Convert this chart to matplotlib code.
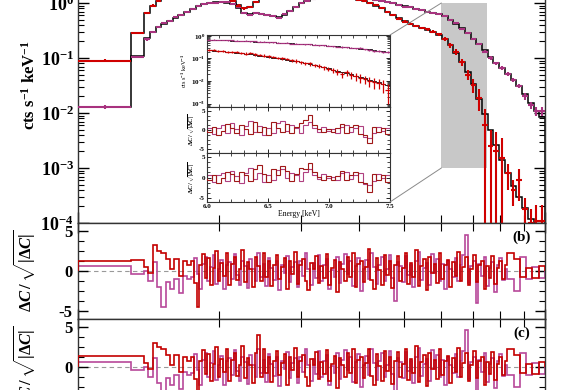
import numpy as np
import matplotlib
matplotlib.use("Agg")
import matplotlib.pyplot as plt
from matplotlib.patches import Rectangle, ConnectionPatch
from matplotlib.ticker import (LogLocator, MultipleLocator, FixedLocator,
                               NullFormatter, FuncFormatter, FixedFormatter)

# ---------------------------------------------------------------- data
# energy bin edges (keV)
spec_edges = np.concatenate(([1.0, 1.30], np.geomspace(1.385, 10.0, 71)))
res_edges = np.concatenate(([1.0, 1.30], np.geomspace(1.385, 1.75, 12),
                            np.geomspace(1.75, 8.3, 121)[1:], np.geomspace(8.3, 10.0, 7)[1:]))
zoom_edges = np.linspace(6.0, 7.5, 41)

red_data = [0.09, 0.285,
            0.65, 0.9, 1.1, 1.25, 1.35, 1.45, 1.5, 1.55, 1.6, 1.55,
            1.5, 1.45, 1.4, 1.3, 1.2, 1.1, 0.9, 0.8, 0.85, 1.05,
            1.2, 1.35, 1.4, 1.45, 1.4, 1.35, 1.3, 1.3, 1.25, 1.2,
            1.25, 1.3, 1.35, 1.3, 1.25, 1.25, 1.2, 1.15, 1.1, 1.0,
            0.92, 0.8, 0.68, 0.6, 0.52, 0.46, 0.42, 0.38, 0.35, 0.33,
            0.3, 0.27, 0.22, 0.17, 0.13, 0.085, 0.05, 0.032, 0.019, 0.006,
            0.0025, 0.002, 0.0015, 0.0008, 0.0004, 0.0006, 0.00018, 0.0001, 0.00011, 0.00011]
red_err = [0.004, 0.01,
           0.03, 0.04, 0.04, 0.04, 0.04, 0.04, 0.04, 0.04, 0.04, 0.04,
           0.04, 0.04, 0.04, 0.04, 0.04, 0.04, 0.04, 0.04, 0.04, 0.04,
           0.04, 0.04, 0.04, 0.04, 0.04, 0.04, 0.04, 0.04, 0.04, 0.04,
           0.04, 0.04, 0.04, 0.04, 0.04, 0.04, 0.04, 0.04, 0.04, 0.04,
           0.04, 0.035, 0.03, 0.03, 0.025, 0.025, 0.025, 0.02, 0.02, 0.02,
           0.02, 0.02, 0.018, 0.015, 0.015, 0.012, 0.01, 0.009, 0.008, 0.006,
           0.0025, 0.0025, 0.002, 0.0004, 0.0002, 0.00035, 0.0001, 0.00008, 0.0001, 0.0001]
red_model = [0.09, 0.29,
             0.66, 0.9, 1.1, 1.25, 1.35, 1.45, 1.5, 1.55, 1.58, 1.55,
             1.5, 1.45, 1.4, 1.3, 1.2, 1.1, 0.92, 0.82, 0.86, 1.05,
             1.2, 1.35, 1.4, 1.42, 1.4, 1.35, 1.32, 1.3, 1.27, 1.25,
             1.27, 1.3, 1.32, 1.3, 1.27, 1.24, 1.2, 1.15, 1.08, 1.0,
             0.9, 0.8, 0.69, 0.6, 0.53, 0.47, 0.42, 0.38, 0.35, 0.32,
             0.3, 0.265, 0.22, 0.17, 0.125, 0.085, 0.055, 0.033, 0.018, 0.0095,
             0.005, 0.0026, 0.0014, 0.0008, 0.00048, 0.0003, 0.00019, 0.00012, 0.000075, 0.00005]

pur_data = [0.013, 0.105,
            0.22, 0.3, 0.37, 0.44, 0.47, 0.56, 0.6, 0.69, 0.77, 0.88,
            0.95, 1.01, 1.02, 1.05, 1.03, 0.95, 0.84, 0.65, 0.61, 0.67,
            0.63, 0.6, 0.57, 0.54, 0.62, 0.73, 0.85, 1.0, 1.1, 1.18,
            1.22, 1.25, 1.28, 1.3, 1.28, 1.26, 1.25, 1.22, 1.2, 1.18,
            1.15, 1.1, 1.05, 0.98, 0.93, 0.86, 0.83, 0.79, 0.74, 0.7,
            0.67, 0.64, 0.58, 0.5, 0.43, 0.34, 0.28, 0.22, 0.18, 0.13,
            0.1, 0.08, 0.066, 0.051, 0.04, 0.031, 0.02, 0.014, 0.011, 0.011]
pur_err = [0.001, 0.006,
           0.012, 0.015, 0.018, 0.02, 0.02, 0.022, 0.022, 0.025, 0.025, 0.025,
           0.025, 0.025, 0.025, 0.025, 0.025, 0.025, 0.025, 0.022, 0.022, 0.022,
           0.022, 0.022, 0.022, 0.022, 0.022, 0.025, 0.025, 0.025, 0.025, 0.025,
           0.025, 0.025, 0.025, 0.025, 0.025, 0.025, 0.025, 0.025, 0.025, 0.025,
           0.025, 0.025, 0.025, 0.025, 0.025, 0.022, 0.022, 0.022, 0.02, 0.02,
           0.02, 0.02, 0.018, 0.018, 0.016, 0.014, 0.012, 0.01, 0.009, 0.008,
           0.007, 0.006, 0.005, 0.004, 0.004, 0.003, 0.003, 0.002, 0.002, 0.002]
pur_model = [0.013, 0.11,
             0.23, 0.3, 0.36, 0.42, 0.48, 0.54, 0.61, 0.69, 0.78, 0.87,
             0.94, 1.0, 1.03, 1.04, 1.02, 0.95, 0.82, 0.67, 0.63, 0.65,
             0.63, 0.6, 0.57, 0.56, 0.61, 0.71, 0.85, 0.99, 1.1, 1.17,
             1.22, 1.25, 1.27, 1.28, 1.27, 1.26, 1.24, 1.22, 1.2, 1.17,
             1.14, 1.1, 1.05, 0.99, 0.93, 0.88, 0.83, 0.78, 0.74, 0.7,
             0.67, 0.63, 0.58, 0.5, 0.42, 0.35, 0.28, 0.225, 0.18, 0.14,
             0.105, 0.082, 0.065, 0.051, 0.04, 0.031, 0.022, 0.015, 0.011, 0.0085]

# residuals, panel (b)
resid_b_red = [1.2, 1.4,
               0.5, -0.3, 3.2, 2.5, 2.3, 1.5, 0.2, 1.5, -0.6, 1.3, 0.8,
               1.2, -1.5, -4.5, 0.8, 2.1, -0.9, 1.6, -1.8, 0.4, 2.5, -1.2, 1.0, -0.6, 2.2, -1.7, 0.9, 1.8, -1.1, 0.3, 2.6,
               -1.4, 1.1, 0.2, -2.0, 1.7, 0.6, -1.3, 2.3, -0.8, 1.2, -1.9, 0.7, 2.0, -1.0, 0.5, 1.6, -2.2, 1.3, -0.4, 2.4,
               -1.6, 0.8, 1.5, -1.2, -2.4, 1.0, 0.3, 1.9, -1.5, 0.6, -0.9, 2.1, -1.8, 0.4, 1.4, -2.6, 1.1, 0.2, -1.3, 1.7,
               -0.7, 2.2, -2.0, 0.9, 1.3, -1.4, 0.5, 2.7, -1.1, -2.3, 1.6, 0.1, -1.7, 2.0, -0.5, 1.2, -2.1, 0.8, 1.9, -1.2,
               0.4, 2.3, -1.6, 1.0, -0.8, 2.6, -1.9, 0.6, 1.5, -2.4, 1.8, -0.3, 0.9, -1.5, 2.2, -1.0, 0.7, 1.4, -2.0, 1.1,
               -0.6, 2.4, -1.3, 0.5, 1.7, -1.8, 0.2, 2.0, -1.4, 0.8, 1.3, -2.2, 0.6, -0.9, 1.9, -1.6, 0.4, 1.2, -1.0, 0.7,
               2.3, 1.5, -0.7, 0.4, -0.9, 0.6]
resid_b_pur = [0.6, -0.4,
               0.0, -1.3, 1.1, -2.0, -4.5, -1.4, -2.2, -1.0, -2.7, -0.6, -1.0,
               -0.8, 1.6, -0.4, -2.2, 0.9, 1.8, -1.3, 0.5, 2.0, -1.6, 0.3, 1.4, -2.3, 0.7, 1.1, -1.0, 2.1, -0.5, -1.8, 1.2,
               0.6, -2.1, 1.5, 0.2, -1.2, 2.3, -0.7, 0.9, -1.9, 1.6, 0.4, -1.1, 1.2, -2.4, 0.8, -0.3, 1.9, -1.4, 0.5, 1.1,
               -2.0, 1.3, -0.6, 2.2, 0.3, -1.7, 1.0, -0.9, 2.0, -1.3, 0.7, 1.5, -2.2, 0.1, -0.8, 1.8, -1.5, 0.9, 2.1, -0.4,
               1.2, -1.9, 0.6, 1.6, -2.5, 0.3, 1.4, -1.0, 2.2, 0.5, -1.6, 0.8, 1.7, -1.2, 0.2, 2.0, -0.9, -3.8, 1.1, 0.6,
               -1.4, 1.9, -0.5, 0.7, -2.0, 1.3, 2.4, -1.1, 0.4, 1.0, -1.8, 2.1, -0.2, 1.5, -1.3, 0.9, -2.3, 1.2, 0.3, -0.7,
               1.6, -1.2, 0.8, 2.0, 4.5, -1.5, 0.6, 1.3, -4.0, 0.9, -0.6, 1.8, -1.9, 0.4, 1.1, -2.6, 0.7, 1.6, -1.1, 0.3,
               -1.0, -2.5, 1.8, -1.0, 0.5, -0.9]
# residuals, panel (c)
resid_c_red = [1.4, 1.4,
               0.5, -0.3, 3.0, 2.5, 2.3, 1.5, 0.2, 1.5, -0.6, 1.3, 0.8,
               1.2, -1.5, -3.0, 0.8, 2.1, -0.9, 1.6, -1.8, 0.4, 2.5, -1.2, 1.0, -0.6, 2.2, -1.7, 0.9, 1.8, -1.1, 0.3, 2.6,
               -1.4, 1.1, 0.2, -2.0, 1.7, 4.0, -1.3, 2.3, -0.8, 1.2, -1.9, 0.7, 2.0, -1.0, 0.5, 1.6, -2.2, 1.3, -0.4, 2.4,
               -1.2, 0.8, 1.5, -1.2, -2.4, 1.0, 0.3, 1.9, -1.5, 0.6, -0.9, 2.1, -1.8, 0.4, 1.4, -2.6, 1.1, 0.2, -1.3, 1.7,
               -0.7, 2.2, -2.0, 0.9, 1.3, -1.4, 0.5, 2.2, -1.1, -2.3, 1.6, 0.1, -1.7, 2.0, -0.5, 1.2, -2.1, 0.8, 1.9, -1.2,
               0.4, 2.3, -1.6, 1.0, -0.8, 2.6, -1.9, 0.6, 1.5, -2.4, 1.8, -0.3, 0.9, -1.5, 2.2, -1.0, 0.7, 1.4, -2.0, 1.1,
               -0.6, 2.4, -1.3, 0.5, 1.7, -1.8, 0.2, 2.0, -1.4, 0.8, 1.3, -2.2, 0.6, -0.9, 1.9, -1.6, 0.4, 1.2, -1.0, 0.7,
               2.3, 1.5, -0.7, 0.4, -0.9, 0.6]
resid_c_pur = [0.6, -0.4,
               0.0, -1.3, 1.1, -2.0, -4.2, -1.4, -2.2, -1.0, -2.7, -0.6, -1.0,
               -0.8, 1.6, -0.4, -2.2, 0.9, 1.8, -1.3, 0.5, 2.0, -1.6, 0.3, 1.4, -2.3, 0.7, 1.1, -1.0, 2.1, -0.5, -1.8, 1.2,
               0.6, -2.1, 1.5, 0.2, -1.2, 2.3, -0.7, 0.9, -1.9, 1.6, 0.4, -1.1, 1.2, -2.4, 0.8, -0.3, 1.9, -1.4, 0.5, 1.1,
               -2.0, 1.3, -0.6, 2.2, 0.3, -1.7, 1.0, -0.9, 2.0, -1.3, 0.7, 1.5, -2.2, 0.1, -0.8, 1.8, -1.5, 0.9, 2.1, -0.4,
               1.2, -1.9, 0.6, 1.6, -2.5, 0.3, 1.4, -1.0, 2.2, 0.5, -1.6, 0.8, 1.7, -1.2, 0.2, 2.0, -0.9, -3.5, 1.1, 0.6,
               -1.4, 1.9, -0.5, 0.7, -2.0, 1.3, 2.4, -1.1, 0.4, 1.0, -1.8, 2.1, -0.2, 1.5, -1.3, 0.9, -2.3, 1.2, 0.3, -0.7,
               1.6, -1.2, 0.8, 2.0, 4.6, -1.5, 0.6, 1.3, -3.6, 0.9, -0.6, 1.8, -1.9, 0.4, 1.1, -2.6, 0.7, 1.6, -1.1, 0.3,
               -1.0, -2.5, 1.8, -1.0, 0.5, -0.9]

# zoom (inset) 6.0 - 7.5 keV
zoom_red = [0.24, 0.23, 0.22, 0.215, 0.2, 0.19, 0.2, 0.17, 0.165, 0.17,
            0.15, 0.14, 0.135, 0.125, 0.12, 0.108, 0.1, 0.095, 0.082, 0.078,
            0.07, 0.06, 0.06, 0.05, 0.045, 0.04, 0.034, 0.03, 0.026, 0.02,
            0.024, 0.018, 0.016, 0.014, 0.012, 0.0105, 0.009, 0.0085, 0.007, 0.004]
zoom_red_err = [0.02, 0.02, 0.02, 0.02, 0.02, 0.02, 0.025, 0.02, 0.02, 0.02,
                0.018, 0.016, 0.016, 0.015, 0.015, 0.014, 0.013, 0.013, 0.012, 0.012,
                0.011, 0.01, 0.012, 0.009, 0.009, 0.008, 0.007, 0.007, 0.007, 0.006,
                0.008, 0.006, 0.006, 0.006, 0.005, 0.005, 0.0045, 0.004, 0.004, 0.003]
zoom_red_model = [0.235, 0.225, 0.215, 0.205, 0.195, 0.186, 0.177, 0.168, 0.159, 0.15,
                  0.142, 0.134, 0.126, 0.118, 0.11, 0.102, 0.095, 0.088, 0.081, 0.074,
                  0.068, 0.062, 0.056, 0.05, 0.045, 0.04, 0.036, 0.032, 0.028, 0.025,
                  0.022, 0.0195, 0.017, 0.015, 0.013, 0.0115, 0.01, 0.0088, 0.0077, 0.0067]
zoom_pur = [0.69, 0.68, 0.66, 0.67, 0.64, 0.63, 0.62, 0.6, 0.61, 0.58,
            0.57, 0.55, 0.56, 0.53, 0.52, 0.5, 0.49, 0.5, 0.46, 0.45,
            0.44, 0.43, 0.42, 0.4, 0.39, 0.38, 0.36, 0.35, 0.33, 0.32,
            0.31, 0.3, 0.28, 0.29, 0.25, 0.24, 0.22, 0.21, 0.2, 0.19]
zoom_pur_model = [0.68, 0.67, 0.66, 0.65, 0.64, 0.62, 0.61, 0.6, 0.59, 0.58,
                  0.56, 0.55, 0.54, 0.53, 0.52, 0.5, 0.49, 0.48, 0.47, 0.45,
                  0.44, 0.43, 0.42, 0.4, 0.39, 0.38, 0.36, 0.35, 0.34, 0.32,
                  0.31, 0.3, 0.29, 0.27, 0.26, 0.25, 0.23, 0.22, 0.21, 0.2]
zoom_res1_red = [-0.5, 0.8, -1.2, -0.3, 1.5, 0.6, -0.8, 1.2, 0.3, -1.0,
                 2.0, -0.6, 0.9, -1.3, 2.2, 0.4, -0.5, 1.6, -0.9, 0.8,
                 1.9, 2.6, 3.8, 1.4, 0.3, -0.6, 0.2, -0.4, 0.5, 1.5,
                 -0.8, 0.7, 1.2, -1.0, -1.2, -3.5, 0.9, -0.4, 0.5, -1.1]
zoom_res1_pur = [0.6, -1.0, 0.4, 1.2, -0.7, 1.8, 0.2, -1.4, 1.0, 2.3,
                 -0.4, 1.1, -1.2, 0.5, -0.8, 1.7, 2.4, -0.3, 1.2, 0.6,
                 -0.9, 1.3, 2.1, 0.4, -0.5, 0.8, -0.2, 0.3, -0.7, 0.9,
                 1.4, -0.5, 0.6, 1.0, -1.8, -2.0, -0.9, 0.7, -0.3, 0.4]
zoom_res2_red = [-0.6, 0.7, -1.3, -0.2, 1.4, 0.8, -0.9, 1.3, 0.5, -0.8,
                 2.2, 3.0, 0.9, -1.2, 2.0, 0.6, 2.8, 1.5, -0.8, 0.9,
                 2.4, 2.0, 3.5, 1.3, 0.2, -0.7, 0.3, -0.5, 0.4, 1.6,
                 -0.7, 0.6, 1.3, -1.1, -1.3, -3.6, 0.8, -0.5, 0.6, -1.0]
zoom_res2_pur = [0.5, -1.1, 0.5, 1.1, -0.8, 1.7, 0.3, -1.3, 1.1, 2.4,
                 -0.3, 1.2, -1.1, 0.6, -0.7, 1.8, 2.2, -0.2, 1.1, 0.7,
                 -0.8, 1.4, 2.0, 0.5, -0.4, 0.9, -0.1, 0.2, -0.6, 1.0,
                 1.3, -0.4, 0.7, 1.1, -1.7, -1.9, -0.8, 0.8, -0.2, 0.5]

zoom_ylim = (7e-4, 1.1)

# ---------------------------------------------------------------- style
plt.rcParams.update({
    'font.family': ['Liberation Serif', 'DejaVu Serif'],
    'font.weight': 'bold',
    'mathtext.fontset': 'custom',
    'mathtext.rm': 'Liberation Serif:bold',
    'mathtext.it': 'Liberation Serif:bold:italic',
    'mathtext.bf': 'Liberation Serif:bold',
    'mathtext.sf': 'Liberation Serif:bold',
    'axes.unicode_minus': False,
    'axes.linewidth': 1.0,
    'axes.edgecolor': '#333333',
})

RED = '#d00000'
PUR = '#a8327f'
RRED = '#c40000'
RPUR = '#b8489a'

W, H = 585, 390
fig = plt.figure(figsize=(W / 100, H / 100), dpi=100)


def px(left, top, right, bottom):
    return [left / W, 1 - bottom / H, (right - left) / W, (bottom - top) / H]


def crosses(ax, edges, vals, err, color, lw, geometric=True, z=2):
    e = np.asarray(edges, float)
    v = np.asarray(vals, float)
    s = np.asarray(err, float)
    c = np.sqrt(e[:-1] * e[1:]) if geometric else 0.5 * (e[:-1] + e[1:])
    lo = np.where(s >= v, v - 1e-9, s)
    ax.errorbar(c, v, xerr=[c - e[:-1], e[1:] - c], yerr=[lo, s], fmt='none',
                ecolor=color, elinewidth=lw, capsize=0, zorder=z)


ax = fig.add_axes(px(78, -52, 545, 223))
axb = fig.add_axes(px(78, 223, 545, 319))
axc = fig.add_axes(px(78, 319, 545, 415))

# ----- main spectrum
ax.set_xscale('log')
ax.set_yscale('log')
ax.set_xlim(spec_edges[0], spec_edges[-1])
ax.set_ylim(1e-4, 10)
ax.add_patch(Rectangle((zoom_edges[0], zoom_ylim[0] * 1.43), zoom_edges[-1] - zoom_edges[0],
                       1.0 - zoom_ylim[0] * 1.43, facecolor='#c8c8c8', edgecolor='none', zorder=1))
ax.stairs(pur_model, spec_edges, color='black', lw=1.1, zorder=2)
ax.stairs(red_model, spec_edges, color='black', lw=1.1, zorder=2)
crosses(ax, spec_edges, pur_data, pur_err, PUR, 1.5, z=3)
crosses(ax, spec_edges, red_data, red_err, RED, 1.5, z=3)

ax.yaxis.set_major_locator(LogLocator(base=10, numticks=10))
ax.yaxis.set_minor_locator(LogLocator(base=10, subs=np.arange(2, 10), numticks=20))
ax.yaxis.set_major_formatter(FuncFormatter(lambda v, p: r'$\mathbf{10^{%d}}$' % int(round(np.log10(v)))))
ax.yaxis.set_minor_formatter(NullFormatter())
ax.xaxis.set_major_formatter(NullFormatter())
ax.xaxis.set_minor_formatter(NullFormatter())
ax.tick_params(which='both', direction='in', top=True, right=True, labelbottom=False)
ax.tick_params(which='major', length=8, width=1.0, labelsize=13, pad=3)
ax.tick_params(which='minor', length=4.5, width=0.8)
ax.tick_params(axis='x', which='minor', length=6)
ax.set_ylabel(r'cts s$^{-1}$ keV$^{-1}$', fontsize=12, fontweight='bold')
ax.yaxis.set_label_coords(-0.085, 0.5)

# ----- residual panels
for axr, rr, rp, lab in ((axb, resid_b_red, resid_b_pur, '(b)'),
                         (axc, resid_c_red, resid_c_pur, '(c)')):
    axr.set_xscale('log')
    axr.set_xlim(res_edges[0], res_edges[-1])
    axr.set_ylim(-6, 6)
    axr.axhline(0, color='#999999', lw=0.8, ls=(0, (4, 3)), zorder=1)
    axr.stairs(rp, res_edges, color=RPUR, lw=1.2, zorder=2)
    axr.stairs(rr, res_edges, color=RRED, lw=1.2, zorder=3)
    axr.yaxis.set_major_locator(FixedLocator([-5, 0, 5]))
    axr.yaxis.set_major_formatter(FixedFormatter(['-5', '0', '5']))
    axr.yaxis.set_minor_locator(MultipleLocator(1.25))
    axr.xaxis.set_major_formatter(NullFormatter())
    axr.xaxis.set_minor_formatter(NullFormatter())
    axr.tick_params(which='both', direction='in', top=True, right=True, labelbottom=False)
    axr.tick_params(which='major', length=7, width=1.0, labelsize=12, pad=4)
    axr.tick_params(which='minor', length=4, width=0.8)
    axr.tick_params(axis='x', which='minor', length=6)
    axr.set_ylabel(r'$\Delta C\,/\,\sqrt{|\Delta C|}$', fontsize=12)
    axr.yaxis.set_label_coords(-0.086, 0.5)
    axr.text(0.95, 0.85, lab, transform=axr.transAxes, ha='center', va='center',
             fontsize=11, fontweight='bold')

# ----- inset
ai1 = fig.add_axes(px(207, 35, 390, 107))
ai2 = fig.add_axes(px(207, 107, 390, 153))
ai3 = fig.add_axes(px(207, 153, 390, 202))

ai1.set_yscale('log')
ai1.set_ylim(*zoom_ylim)
ai1.stairs(zoom_pur_model, zoom_edges, color='#202020', lw=0.7, zorder=2)
ai1.stairs(zoom_red_model, zoom_edges, color='#202020', lw=0.7, zorder=2)
crosses(ai1, zoom_edges, zoom_pur, [0.02] * len(zoom_pur), PUR, 0.9, geometric=False, z=3)
crosses(ai1, zoom_edges, zoom_red, zoom_red_err, RED, 0.9, geometric=False, z=3)
ai1.yaxis.set_major_locator(LogLocator(base=10, numticks=10))
ai1.yaxis.set_minor_locator(LogLocator(base=10, subs=np.arange(2, 10), numticks=20))
ai1.yaxis.set_major_formatter(FuncFormatter(lambda v, p: r'$\mathbf{10^{%d}}$' % int(round(np.log10(v)))))
ai1.yaxis.set_minor_formatter(NullFormatter())
ai1.set_ylabel(r'cts s$^{-1}$ keV$^{-1}$', fontsize=4.5, labelpad=1)

for axr, rr, rp in ((ai2, zoom_res1_red, zoom_res1_pur), (ai3, zoom_res2_red, zoom_res2_pur)):
    axr.set_ylim(-6, 6)
    axr.stairs(rp, zoom_edges, color='#b04080', lw=0.8, zorder=2)
    axr.stairs(rr, zoom_edges, color='#a01818', lw=0.8, zorder=3)
    axr.yaxis.set_major_locator(FixedLocator([-5, 0, 5]))
    axr.yaxis.set_major_formatter(FixedFormatter(['-5', '0', '5']))
    axr.yaxis.set_minor_locator(MultipleLocator(1.25))
    axr.set_ylabel(r'$\Delta C\,/\,\sqrt{|\Delta C|}$', fontsize=4.8, labelpad=1.5)

for a in (ai1, ai2, ai3):
    a.set_xlim(zoom_edges[0], zoom_edges[-1])
    a.xaxis.set_major_locator(MultipleLocator(0.5))
    a.xaxis.set_minor_locator(MultipleLocator(0.1))
    a.tick_params(which='both', direction='in', top=True, right=True, labelsize=5, pad=1.5)
    a.tick_params(which='major', length=3, width=0.6)
    a.tick_params(which='minor', length=2, width=0.5)
    for s in a.spines.values():
        s.set_linewidth(0.8)
    if a is not ai3:
        a.tick_params(labelbottom=False)
ai3.xaxis.set_major_formatter(FuncFormatter(lambda v, p: '%.1f' % v))
ai3.set_xlabel('Energy [keV]', fontsize=5.5, labelpad=1)

# connectors between shaded region and inset
for ya, axB, yb in ((1.0, ai1, 1.0), (zoom_ylim[0] * 1.43, ai3, 0.0)):
    con = ConnectionPatch(xyA=(zoom_edges[0], ya), coordsA=ax.transData,
                          xyB=(1.0, yb), coordsB=axB.transAxes,
                          color='#8a8a8a', lw=0.7)
    fig.add_artist(con)

fig.savefig('out.png', dpi=100)
